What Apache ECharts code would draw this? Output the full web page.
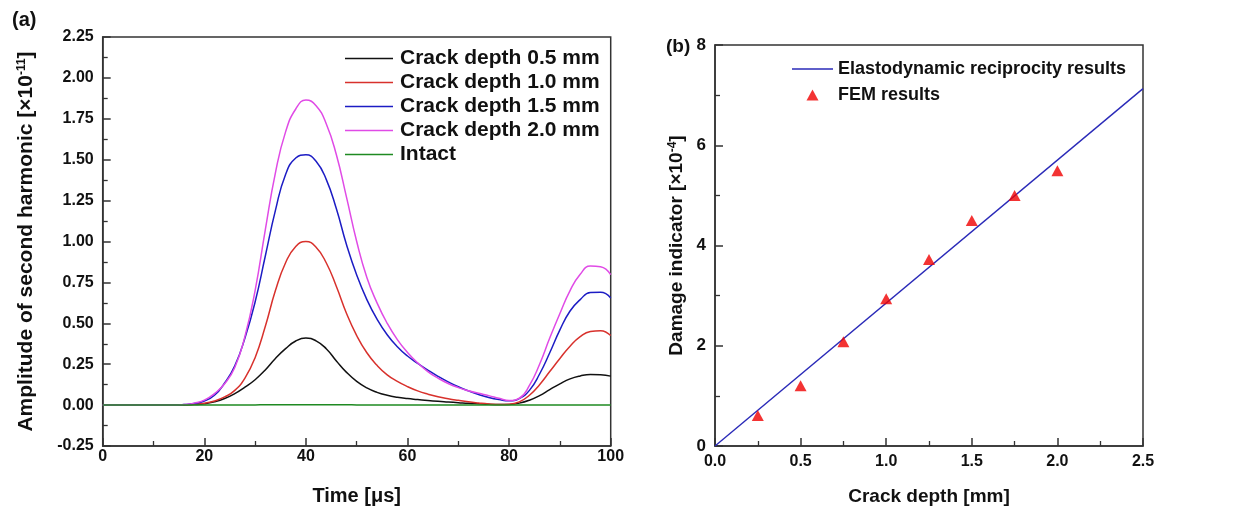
<!DOCTYPE html>
<html>
<head>
<meta charset="utf-8">
<script src="https://cdn.jsdelivr.net/npm/echarts@6/dist/echarts.min.js"></script>
<style>html,body{margin:0;padding:0;background:#fff;}#c{width:1250px;height:511px;}</style>
</head>
<body>
<div id="c"></div>
<script>
// ---- Panel (a) data ----
const time = [0,2,4,6,8,10,12,14,16,18,20,22,24,26,28,30,32,34,36,38,40,42,44,46,48,50,52,54,56,58,60,62,64,66,68,70,72,74,76,78,80,82,84,86,88,90,92,94,96,98,100];
const depth05 = [0,0,0,0,0,0,0,0,0.001,0.003,0.008,0.02,0.04,0.07,0.11,0.155,0.215,0.285,0.345,0.392,0.41,0.393,0.345,0.27,0.2,0.145,0.105,0.078,0.06,0.048,0.04,0.034,0.028,0.023,0.019,0.015,0.011,0.008,0.005,0.003,0.004,0.012,0.03,0.058,0.095,0.13,0.16,0.178,0.187,0.186,0.177];
const depth10 = [0,0,0,0,0,0,0,0,0.002,0.005,0.012,0.025,0.05,0.09,0.165,0.29,0.48,0.70,0.87,0.97,1.0,0.965,0.87,0.725,0.56,0.425,0.32,0.243,0.185,0.145,0.113,0.087,0.067,0.051,0.039,0.029,0.02,0.013,0.007,0.003,0.005,0.02,0.06,0.125,0.205,0.285,0.36,0.418,0.45,0.455,0.425];
const depth15 = [0,0,0,0,0,0,0,0,0.003,0.01,0.025,0.06,0.135,0.24,0.41,0.63,0.91,1.19,1.41,1.51,1.53,1.49,1.38,1.2,0.98,0.795,0.645,0.525,0.43,0.357,0.3,0.255,0.214,0.176,0.142,0.112,0.087,0.065,0.047,0.034,0.026,0.04,0.09,0.19,0.32,0.46,0.575,0.645,0.688,0.69,0.655];
const depth20 = [0,0,0,0,0,0,0,0,0.004,0.012,0.03,0.07,0.13,0.23,0.42,0.70,1.07,1.42,1.67,1.81,1.865,1.83,1.72,1.53,1.27,1.0,0.78,0.625,0.5,0.40,0.322,0.258,0.205,0.165,0.132,0.107,0.088,0.072,0.058,0.042,0.028,0.042,0.12,0.25,0.41,0.56,0.70,0.80,0.85,0.845,0.797];
const intact  = [0,0,0,0,0,0,0,0,0,0,0,0,0,0,0.001,0.001,0.002,0.002,0.002,0.002,0.002,0.002,0.002,0.002,0.002,0.001,0.001,0.001,0.001,0.001,0.001,0.001,0.001,0,0,0,0,0,0,0,0,0,0,0,0,0,0,0,0,0,0];
const seriesNamesA = ['Crack depth 0.5 mm','Crack depth 1.0 mm','Crack depth 1.5 mm','Crack depth 2.0 mm','Intact'];

// ---- Panel (b) data ----
const femDepth = [0.25,0.5,0.75,1.0,1.25,1.5,1.75,2.0];
const femValue = [0.61,1.2,2.08,2.94,3.72,4.5,5.0,5.49];
const recipDepth = [0,2.5];
const recipValue = [0,7.13];
const seriesNamesB = ['Elastodynamic reciprocity results','FEM results'];

const FONT = "'Liberation Sans', Arial, Helvetica, sans-serif";
const AX = '#333';

function zip(xs, ys){ return xs.map((x,i)=>[x, ys[i]]); }

function axisCommon(extra){
  return Object.assign({
    type:'value',
    axisLine:{show:true, onZero:false, lineStyle:{color:AX, width:1.5}},
    axisTick:{show:true, inside:true, length:8, lineStyle:{color:AX, width:1.5}},
    minorTick:{show:true, splitNumber:2, length:5, lineStyle:{color:AX, width:1.3}},
    splitLine:{show:false},
    minorSplitLine:{show:false}
  }, extra);
}

const chart = echarts.init(document.getElementById('c'), null, {renderer:'canvas'});
const colorsA = ['#111111','#d8312c','#1c1cc4','#e04be6','#1f8a22'];
const dataA = [depth05, depth10, depth15, depth20, intact];

const option = {
  animation:false,
  backgroundColor:'#ffffff',
  graphic:[
    {type:'text', left:12, top:10, style:{text:'(a)', font:"bold 20px "+FONT, fill:'#111'}},
    {type:'text', left:666, top:37, style:{text:'(b)', font:"bold 19px "+FONT, fill:'#111'}}
  ],
  grid:[
    {left:102.7, top:37, width:508, height:410, show:true, borderColor:AX, borderWidth:1.5, backgroundColor:'transparent'},
    {left:715, top:45, width:428, height:402.3, show:true, borderColor:AX, borderWidth:1.5, backgroundColor:'transparent'}
  ],
  xAxis:[
    axisCommon({gridIndex:0, min:0, max:100, interval:20,
      axisLabel:{margin:3, color:'#111', fontSize:16, fontWeight:'bold', fontFamily:FONT},
      name:'Time [\u03bcs]', nameLocation:'middle', nameGap:40,
      nameTextStyle:{fontSize:20, fontWeight:'bold', color:'#111', fontFamily:FONT}}),
    axisCommon({gridIndex:1, min:0, max:2.5, interval:0.5,
      axisLabel:{margin:8, color:'#111', fontSize:16, fontWeight:'bold', fontFamily:FONT, formatter:v=>v.toFixed(1)},
      name:'Crack depth [mm]', nameLocation:'middle', nameGap:41,
      nameTextStyle:{fontSize:19, fontWeight:'bold', color:'#111', fontFamily:FONT}})
  ],
  yAxis:[
    axisCommon({gridIndex:0, min:-0.25, max:2.25, interval:0.25,
      axisLabel:{margin:9, color:'#111', fontSize:16, fontWeight:'bold', fontFamily:FONT, formatter:v=>v.toFixed(2)},
      name:'{t|Amplitude of second harmonic [\u00d710}{s|-11}{t|]}', nameLocation:'middle', nameGap:66, nameRotate:90,
      nameTextStyle:{rich:{t:{fontSize:21, fontWeight:'bold', color:'#111', fontFamily:FONT}, s:{fontSize:12, fontWeight:'bold', color:'#111', fontFamily:FONT, verticalAlign:'top'}}}}),
    axisCommon({gridIndex:1, min:0, max:8, interval:2,
      axisLabel:{margin:9, color:'#111', fontSize:17, fontWeight:'bold', fontFamily:FONT},
      name:'{t|Damage indicator [\u00d710}{s|-4}{t|]}', nameLocation:'middle', nameGap:29, nameRotate:90,
      nameTextStyle:{rich:{t:{fontSize:19, fontWeight:'bold', color:'#111', fontFamily:FONT}, s:{fontSize:12, fontWeight:'bold', color:'#111', fontFamily:FONT, verticalAlign:'top'}}}})
  ],
  legend:[
    {data:seriesNamesA, orient:'vertical', left:345, top:48, padding:0, itemGap:3,
     itemWidth:48, itemHeight:14, icon:'path://M0,0H48V1.5H0Z',
     textStyle:{fontSize:21, fontWeight:'bold', color:'#111', fontFamily:FONT, padding:[0,0,0,2]}},
    {data:[{name:seriesNamesB[0], icon:'path://M0,0H41V1.3H0Z'},{name:seriesNamesB[1], icon:'path://M6,0L12,11L0,11Z'}],
     orient:'vertical', left:792, top:60, padding:0, itemGap:8, itemWidth:41, itemHeight:11,
     textStyle:{fontSize:18, fontWeight:'bold', color:'#111', fontFamily:FONT}}
  ],
  series: seriesNamesA.map((nm,i)=>({
    name:nm, type:'line', xAxisIndex:0, yAxisIndex:0,
    data: zip(time, dataA[i]), smooth:0.5, symbol:'none',
    color:colorsA[i], lineStyle:{width:1.5, color:colorsA[i]}, z: i===4 ? 5 : 3
  })).concat([
    {name:seriesNamesB[0], type:'line', xAxisIndex:1, yAxisIndex:1, data:zip(recipDepth, recipValue),
     symbol:'none', color:'#2a2ab8', lineStyle:{width:1.4, color:'#2a2ab8'}},
    {name:seriesNamesB[1], type:'scatter', xAxisIndex:1, yAxisIndex:1, data:zip(femDepth, femValue),
     symbol:'triangle', symbolSize:[12,11], color:'#f00000', itemStyle:{color:'#f00000'}, z:4}
  ])
};
chart.setOption(option);
</script>
</body>
</html>
